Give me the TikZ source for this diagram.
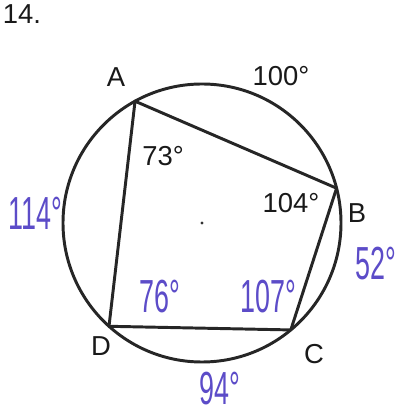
\documentclass[tikz,border=0pt]{standalone}
\usepackage{fontspec}
\usepackage{graphicx}
\setmainfont{Liberation Sans}
\definecolor{pen}{RGB}{92,76,200}
\newcommand{\hw}[1]{\scalebox{0.58}[1]{#1}}

\begin{document}
\begin{tikzpicture}[
  print/.style={font=\fontsize{19.5}{22}\selectfont,text=black!90,inner sep=0pt},
  hand/.style={font=\fontsize{33}{36}\selectfont,text=pen,inner sep=0pt},
  rim/.style={line width=2.1pt,draw=black!85}
]
  \useasboundingbox (-5.05,-4.8) rectangle (5.175,5.575);
  % circle and inscribed quadrilateral
  \coordinate (O) at (0,0);
  \coordinate (A) at (118.8:3.475);
  \coordinate (B) at (14.5:3.475);
  \coordinate (C) at (-50.3:3.475);
  \coordinate (D) at (228:3.475);
  \draw[rim] (O) circle (3.475);
  \draw[rim,line join=round] (A) -- (B) -- (C) -- (D) -- cycle;
  \fill[black!80] (O) circle (1.1pt);
  % printed labels
  \node[print] (num) at (-4.5,5.225) {14.};
  \node[print] (lA) at (-2.15,3.64) {A};
  \node[print] (lB) at (3.875,0.25) {B};
  \node[print] (lC) at (2.8,-3.275) {C};
  \node[print] (lD) at (-2.525,-3.075) {D};
  \node[print] (arcAB) at (1.975,3.675) {100°};
  \node[print] (angA) at (-0.975,1.675) {73°};
  \node[print] (angB) at (2.225,0.5) {104°};
  % handwritten answers
  \node[hand] (arcDA) at (-4.175,0.25) {\hw{114°}};
  \node[hand] (arcBC) at (4.35,-1.025) {\hw{52°}};
  \node[hand] (angD) at (-1.05,-1.85) {\hw{76°}};
  \node[hand] (angC) at (1.65,-1.85) {\hw{107°}};
  \node[hand] (arcCD) at (0.45,-4.15) {\hw{94°}};
\end{tikzpicture}
\end{document}
